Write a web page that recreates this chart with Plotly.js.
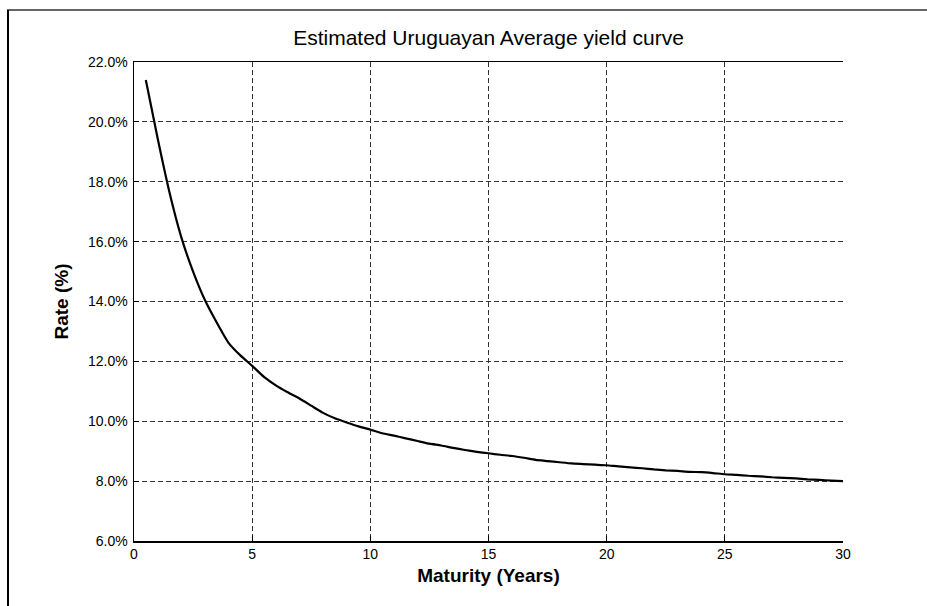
<!DOCTYPE html>
<html>
<head>
<meta charset="utf-8">
<script src="https://cdn.plot.ly/plotly-3.0.1.min.js"></script>
<style>
html,body{margin:0;padding:0;background:#fff;}
#chart{width:927px;height:606px;}
</style>
</head>
<body>
<div id="chart"></div>
<script>
// Maturity in years
const maturity = [0.5,1,1.5,2,2.5,3,3.5,4,4.5,5,5.5,6,6.5,7,7.5,8,8.5,9,9.5,10,
  10.5,11,11.5,12,12.5,13,13.5,14,14.5,15,15.5,16,16.5,17,17.5,18,18.5,19,19.5,20,
  20.5,21,21.5,22,22.5,23,23.5,24,24.5,25,25.5,26,26.5,27,27.5,28,28.5,29,29.5,30];
// Estimated rate (%)
const rate = [21.4,19.45,17.65,16.15,15.0,14.05,13.3,12.62,12.2,11.85,11.48,11.2,10.97,10.76,10.52,10.28,10.1,9.96,9.83,9.72,
  9.6,9.52,9.43,9.34,9.25,9.19,9.11,9.04,8.98,8.93,8.88,8.84,8.78,8.71,8.67,8.63,8.59,8.57,8.55,8.53,
  8.49,8.46,8.43,8.39,8.36,8.34,8.31,8.3,8.27,8.23,8.21,8.18,8.16,8.13,8.11,8.09,8.06,8.04,8.02,8.0];
const xTicks = [0,5,10,15,20,25,30];
const yTicks = [6,8,10,12,14,16,18,20,22];
const yTickText = yTicks.map(v => v.toFixed(1) + '%');

const W = 927, H = 606, L = 134, R = 84, T = 62, B = 65;
const pw = W - L - R, ph = H - T - B;
const px = x => (x - L) / pw;
const py = y => (H - B - y) / ph;

const trace = {
  x: maturity, y: rate, type: 'scatter', mode: 'lines',
  line: {color: '#000', width: 2.2, shape: 'spline', smoothing: 0.5}, hoverinfo: 'skip'
};

const font = 'Liberation Sans, Arial, sans-serif';
const layout = {
  width: W, height: H,
  margin: {l: L, r: R, t: T, b: B, pad: 0},
  paper_bgcolor: '#fff', plot_bgcolor: '#fff',
  showlegend: false,
  font: {family: font, color: '#000', size: 14},
  title: {text: 'Estimated Uruguayan Average yield curve', x: 0.5, xref: 'paper',
          y: 1 - 38 / H, yanchor: 'middle', font: {family: font, size: 21, color: '#000'}},
  xaxis: {
    range: [0, 30], tickvals: xTicks, ticktext: xTicks.map(String),
    showline: true, linecolor: '#000', linewidth: 1.5, mirror: true,
    ticks: 'inside', ticklen: 5, tickcolor: '#000',
    showgrid: true, gridcolor: '#333', gridwidth: 1, griddash: '5px,3px',
    zeroline: false, tickfont: {size: 14},
    title: {text: '<b>Maturity (Years)</b>', font: {size: 19}, standoff: 7}
  },
  yaxis: {
    range: [6, 22], tickvals: yTicks, ticktext: yTickText,
    showline: true, linecolor: '#000', linewidth: 1.5, mirror: false,
    ticks: 'inside', ticklen: 5, tickcolor: '#000', ticklabelstandoff: 2,
    showgrid: true, gridcolor: '#333', gridwidth: 1, griddash: '5px,3px',
    zeroline: false, tickfont: {size: 14},
    title: {text: '<b>Rate (%)</b>', font: {size: 19}, standoff: 14}
  },
  shapes: [
    {type: 'line', xref: 'paper', yref: 'paper', x0: px(7), x1: px(927), y0: py(10), y1: py(10),
     line: {color: '#666', width: 2}},
    {type: 'line', xref: 'paper', yref: 'paper', x0: px(8), x1: px(8), y0: py(10), y1: py(606),
     line: {color: '#000', width: 2}}
  ]
};

Plotly.newPlot('chart', [trace], layout, {staticPlot: true, displayModeBar: false});
</script>
</body>
</html>
